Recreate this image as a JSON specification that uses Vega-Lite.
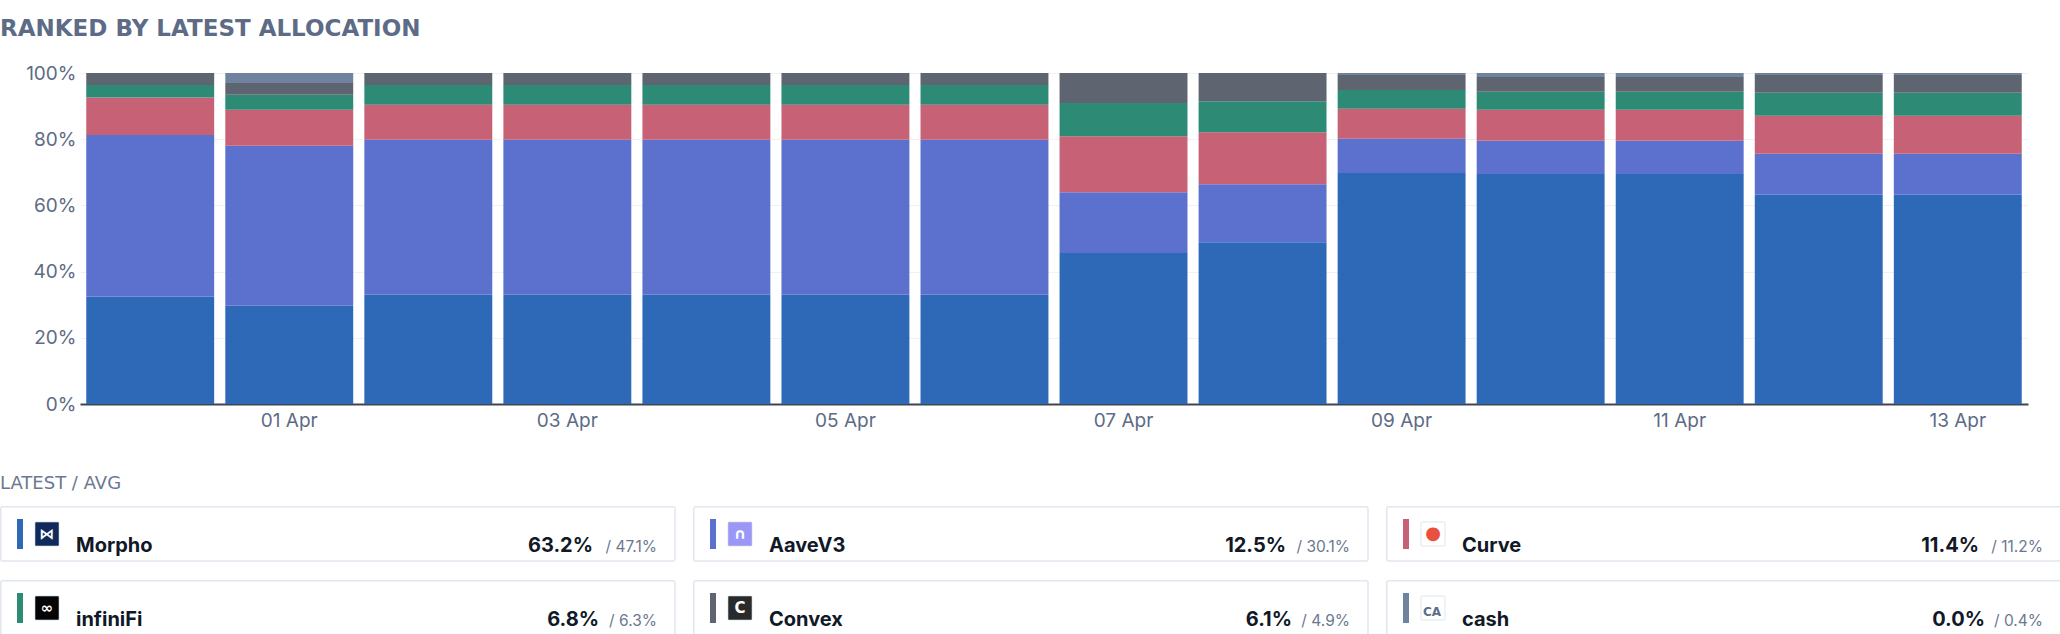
{
  "$schema": "https://vega.github.io/schema/vega-lite/v6.json",
  "padding": {"left": 0, "top": 18, "right": 0, "bottom": 0},
  "background": "white",
  "config": {"view": {"stroke": null}, "font": "Inter", "header": {"labels": false, "labelExpr": "''", "labelFontSize": 1, "labelPadding": 0, "labelColor": "transparent"}, "headerFacet": {"labels": false, "labelExpr": "''", "labelFontSize": 1, "labelPadding": 0, "labelColor": "transparent"}},
  "title": {"text": "RANKED BY LATEST ALLOCATION", "anchor": "start", "frame": "bounds", "font": "DejaVu Sans", "fontSize": 23, "fontWeight": "bold", "color": "#5d6b86", "offset": 23},
  "spacing": 45,
  "datasets": {
    "alloc": [
      {"date": "31 Mar", "series": "Morpho", "rank": 1, "value": 32.4},
      {"date": "31 Mar", "series": "AaveV3", "rank": 2, "value": 48.9},
      {"date": "31 Mar", "series": "Curve", "rank": 3, "value": 11.3},
      {"date": "31 Mar", "series": "infiniFi", "rank": 4, "value": 3.8},
      {"date": "31 Mar", "series": "Convex", "rank": 5, "value": 3.6},
      {"date": "01 Apr", "series": "Morpho", "rank": 1, "value": 29.7},
      {"date": "01 Apr", "series": "AaveV3", "rank": 2, "value": 48.3},
      {"date": "01 Apr", "series": "Curve", "rank": 3, "value": 10.9},
      {"date": "01 Apr", "series": "infiniFi", "rank": 4, "value": 4.5},
      {"date": "01 Apr", "series": "Convex", "rank": 5, "value": 3.6},
      {"date": "01 Apr", "series": "cash", "rank": 6, "value": 3.0},
      {"date": "02 Apr", "series": "Morpho", "rank": 1, "value": 33.0},
      {"date": "02 Apr", "series": "AaveV3", "rank": 2, "value": 46.8},
      {"date": "02 Apr", "series": "Curve", "rank": 3, "value": 10.6},
      {"date": "02 Apr", "series": "infiniFi", "rank": 4, "value": 6.0},
      {"date": "02 Apr", "series": "Convex", "rank": 5, "value": 3.6},
      {"date": "03 Apr", "series": "Morpho", "rank": 1, "value": 33.0},
      {"date": "03 Apr", "series": "AaveV3", "rank": 2, "value": 46.8},
      {"date": "03 Apr", "series": "Curve", "rank": 3, "value": 10.6},
      {"date": "03 Apr", "series": "infiniFi", "rank": 4, "value": 6.0},
      {"date": "03 Apr", "series": "Convex", "rank": 5, "value": 3.6},
      {"date": "04 Apr", "series": "Morpho", "rank": 1, "value": 33.0},
      {"date": "04 Apr", "series": "AaveV3", "rank": 2, "value": 46.8},
      {"date": "04 Apr", "series": "Curve", "rank": 3, "value": 10.6},
      {"date": "04 Apr", "series": "infiniFi", "rank": 4, "value": 6.0},
      {"date": "04 Apr", "series": "Convex", "rank": 5, "value": 3.6},
      {"date": "05 Apr", "series": "Morpho", "rank": 1, "value": 33.0},
      {"date": "05 Apr", "series": "AaveV3", "rank": 2, "value": 46.8},
      {"date": "05 Apr", "series": "Curve", "rank": 3, "value": 10.6},
      {"date": "05 Apr", "series": "infiniFi", "rank": 4, "value": 6.0},
      {"date": "05 Apr", "series": "Convex", "rank": 5, "value": 3.6},
      {"date": "06 Apr", "series": "Morpho", "rank": 1, "value": 33.0},
      {"date": "06 Apr", "series": "AaveV3", "rank": 2, "value": 46.8},
      {"date": "06 Apr", "series": "Curve", "rank": 3, "value": 10.6},
      {"date": "06 Apr", "series": "infiniFi", "rank": 4, "value": 6.0},
      {"date": "06 Apr", "series": "Convex", "rank": 5, "value": 3.6},
      {"date": "07 Apr", "series": "Morpho", "rank": 1, "value": 45.6},
      {"date": "07 Apr", "series": "AaveV3", "rank": 2, "value": 18.4},
      {"date": "07 Apr", "series": "Curve", "rank": 3, "value": 16.9},
      {"date": "07 Apr", "series": "infiniFi", "rank": 4, "value": 10.0},
      {"date": "07 Apr", "series": "Convex", "rank": 5, "value": 9.1},
      {"date": "08 Apr", "series": "Morpho", "rank": 1, "value": 48.9},
      {"date": "08 Apr", "series": "AaveV3", "rank": 2, "value": 17.5},
      {"date": "08 Apr", "series": "Curve", "rank": 3, "value": 15.7},
      {"date": "08 Apr", "series": "infiniFi", "rank": 4, "value": 9.4},
      {"date": "08 Apr", "series": "Convex", "rank": 5, "value": 8.5},
      {"date": "09 Apr", "series": "Morpho", "rank": 1, "value": 69.8},
      {"date": "09 Apr", "series": "AaveV3", "rank": 2, "value": 10.3},
      {"date": "09 Apr", "series": "Curve", "rank": 3, "value": 9.1},
      {"date": "09 Apr", "series": "infiniFi", "rank": 4, "value": 5.7},
      {"date": "09 Apr", "series": "Convex", "rank": 5, "value": 4.5},
      {"date": "09 Apr", "series": "cash", "rank": 6, "value": 0.6},
      {"date": "10 Apr", "series": "Morpho", "rank": 1, "value": 69.5},
      {"date": "10 Apr", "series": "AaveV3", "rank": 2, "value": 10.0},
      {"date": "10 Apr", "series": "Curve", "rank": 3, "value": 9.4},
      {"date": "10 Apr", "series": "infiniFi", "rank": 4, "value": 5.4},
      {"date": "10 Apr", "series": "Convex", "rank": 5, "value": 4.5},
      {"date": "10 Apr", "series": "cash", "rank": 6, "value": 1.2},
      {"date": "11 Apr", "series": "Morpho", "rank": 1, "value": 69.5},
      {"date": "11 Apr", "series": "AaveV3", "rank": 2, "value": 10.0},
      {"date": "11 Apr", "series": "Curve", "rank": 3, "value": 9.4},
      {"date": "11 Apr", "series": "infiniFi", "rank": 4, "value": 5.4},
      {"date": "11 Apr", "series": "Convex", "rank": 5, "value": 4.5},
      {"date": "11 Apr", "series": "cash", "rank": 6, "value": 1.2},
      {"date": "12 Apr", "series": "Morpho", "rank": 1, "value": 63.2},
      {"date": "12 Apr", "series": "AaveV3", "rank": 2, "value": 12.4},
      {"date": "12 Apr", "series": "Curve", "rank": 3, "value": 11.5},
      {"date": "12 Apr", "series": "infiniFi", "rank": 4, "value": 6.9},
      {"date": "12 Apr", "series": "Convex", "rank": 5, "value": 5.4},
      {"date": "12 Apr", "series": "cash", "rank": 6, "value": 0.6},
      {"date": "13 Apr", "series": "Morpho", "rank": 1, "value": 63.2},
      {"date": "13 Apr", "series": "AaveV3", "rank": 2, "value": 12.4},
      {"date": "13 Apr", "series": "Curve", "rank": 3, "value": 11.5},
      {"date": "13 Apr", "series": "infiniFi", "rank": 4, "value": 6.9},
      {"date": "13 Apr", "series": "Convex", "rank": 5, "value": 5.4},
      {"date": "13 Apr", "series": "cash", "rank": 6, "value": 0.6}
    ],
    "summary": [
      {"name": "Morpho", "latest": 63.2, "avg": 47.1, "latestText": "63.2%", "avgText": "/ 47.1%", "glyph": "⋈"},
      {"name": "AaveV3", "latest": 12.5, "avg": 30.1, "latestText": "12.5%", "avgText": "/ 30.1%", "glyph": "∩"},
      {"name": "Curve", "latest": 11.4, "avg": 11.2, "latestText": "11.4%", "avgText": "/ 11.2%", "glyph": "●"},
      {"name": "infiniFi", "latest": 6.8, "avg": 6.3, "latestText": "6.8%", "avgText": "/ 6.3%", "glyph": "∞"},
      {"name": "Convex", "latest": 6.1, "avg": 4.9, "latestText": "6.1%", "avgText": "/ 4.9%", "glyph": "C"},
      {"name": "cash", "latest": 0.0, "avg": 0.4, "latestText": "0.0%", "avgText": "/ 0.4%", "glyph": "CA"}
    ]
  },
  "vconcat": [
    {
      "width": 2030,
      "height": 331,
      "data": {"name": "alloc"},
      "mark": {"type": "bar"},
      "encoding": {
        "x": {
          "field": "date", "type": "nominal", "sort": null,
          "scale": {"range": [80, 2028], "paddingInner": 0.08, "paddingOuter": 0.045},
          "axis": {"title": null, "values": ["01 Apr", "03 Apr", "05 Apr", "07 Apr", "09 Apr", "11 Apr", "13 Apr"], "labelAngle": 0, "ticks": false, "grid": false, "domainColor": "#3f4652", "domainWidth": 2, "labelFontSize": 19, "labelColor": "#5d6b86", "labelPadding": 7}
        },
        "y": {
          "field": "value", "type": "quantitative", "stack": "normalize",
          "scale": {"domain": [0, 1]},
          "axis": {"title": null, "format": ".0%", "values": [0, 0.2, 0.4, 0.6, 0.8, 1], "domain": false, "ticks": false, "labelFontSize": 19, "labelColor": "#5d6b86", "labelPadding": 4, "gridColor": "#eef2f7", "offset": -80}
        },
        "color": {
          "field": "series", "type": "nominal",
          "scale": {"domain": ["Morpho", "AaveV3", "Curve", "infiniFi", "Convex", "cash"], "range": ["#2e69b8", "#5c70cd", "#c66176", "#2d8a75", "#5e6470", "#6f839f"]},
          "legend": null
        },
        "order": {"field": "rank", "type": "quantitative", "sort": "ascending"}
      }
    },
    {
      "data": {"name": "summary"},
      "title": {"text": "LATEST / AVG", "anchor": "start", "frame": "bounds", "font": "DejaVu Sans", "fontSize": 18, "fontWeight": "normal", "color": "#6b7890", "offset": 12},
      "facet": {"field": "name", "type": "nominal", "sort": {"field": "latest", "op": "max", "order": "descending"}, "header": {"labels": false, "labelExpr": "''", "labelFontSize": 1, "labelColor": "transparent", "title": null, "labelPadding": 0, "titlePadding": 0}},
      "columns": 3,
      "spacing": {"row": 17, "column": 17},
      "spec": {
        "width": 675,
        "height": 55,
        "layer": [
          {"mark": {"type": "rect", "x": 0.75, "y": 0.75, "x2": "width", "y2": "height", "fill": "white", "stroke": "#e1e7ef", "strokeWidth": 1.5, "cornerRadius": 2}},
          {
            "mark": {"type": "rect", "x": 17, "x2": 23, "y": 13, "y2": 43},
            "encoding": {
              "color": {"field": "name", "type": "nominal", "scale": {"domain": ["Morpho", "AaveV3", "Curve", "infiniFi", "Convex", "cash"], "range": ["#2e69b8", "#5c70cd", "#c66176", "#2d8a75", "#5e6470", "#6f839f"]}, "legend": null}
            }
          },
          {
            "mark": {"type": "rect", "x": 35, "x2": 59, "y": 16, "y2": 40, "cornerRadius": 1, "stroke": "#cfd6e0", "strokeWidth": 0.6},
            "encoding": {
              "fill": {"field": "name", "type": "nominal", "scale": {"domain": ["Morpho", "AaveV3", "Curve", "infiniFi", "Convex", "cash"], "range": ["#102a5c", "#9a97f7", "#ffffff", "#050505", "#2a2a2a", "#ffffff"]}, "legend": null}
            }
          },
          {
            "transform": [{"filter": {"field": "name", "oneOf": ["Morpho", "AaveV3", "infiniFi", "Convex"]}}],
            "mark": {"type": "text", "x": 47, "y": 28, "align": "center", "baseline": "middle", "font": "DejaVu Sans", "fontSize": 15, "fontWeight": "bold", "color": "#ffffff"},
            "encoding": {"text": {"field": "glyph"}}
          },
          {
            "transform": [{"filter": {"field": "name", "equal": "Curve"}}],
            "mark": {"type": "text", "x": 47, "y": 28, "align": "center", "baseline": "middle", "font": "DejaVu Sans", "fontSize": 18, "color": "#e8503f"},
            "encoding": {"text": {"field": "glyph"}}
          },
          {
            "transform": [{"filter": {"field": "name", "equal": "cash"}}],
            "mark": {"type": "text", "x": 46, "y": 32, "align": "center", "baseline": "middle", "font": "DejaVu Sans", "fontSize": 12, "fontWeight": "bold", "color": "#5b6f8c"},
            "encoding": {"text": {"field": "glyph"}}
          },
          {
            "mark": {"type": "text", "x": 76, "y": 46, "align": "left", "baseline": "alphabetic", "font": "Inter", "fontSize": 20, "fontWeight": "bold", "color": "#111827"},
            "encoding": {"text": {"field": "name"}}
          },
          {
            "transform": [{"filter": {"field": "avg", "gte": 10}}],
            "mark": {"type": "text", "x": "width", "dx": -82, "y": 46, "align": "right", "baseline": "alphabetic", "font": "Inter", "fontSize": 20, "fontWeight": "bold", "color": "#111827"},
            "encoding": {"text": {"field": "latestText"}}
          },
          {
            "transform": [{"filter": {"field": "avg", "lt": 10}}],
            "mark": {"type": "text", "x": "width", "dx": -76, "y": 46, "align": "right", "baseline": "alphabetic", "font": "Inter", "fontSize": 20, "fontWeight": "bold", "color": "#111827"},
            "encoding": {"text": {"field": "latestText"}}
          },
          {
            "mark": {"type": "text", "x": "width", "dx": -18, "y": 46, "align": "right", "baseline": "alphabetic", "font": "Inter", "fontSize": 15.5, "color": "#6b7890"},
            "encoding": {"text": {"field": "avgText"}}
          }
        ]
      }
    }
  ]
}
